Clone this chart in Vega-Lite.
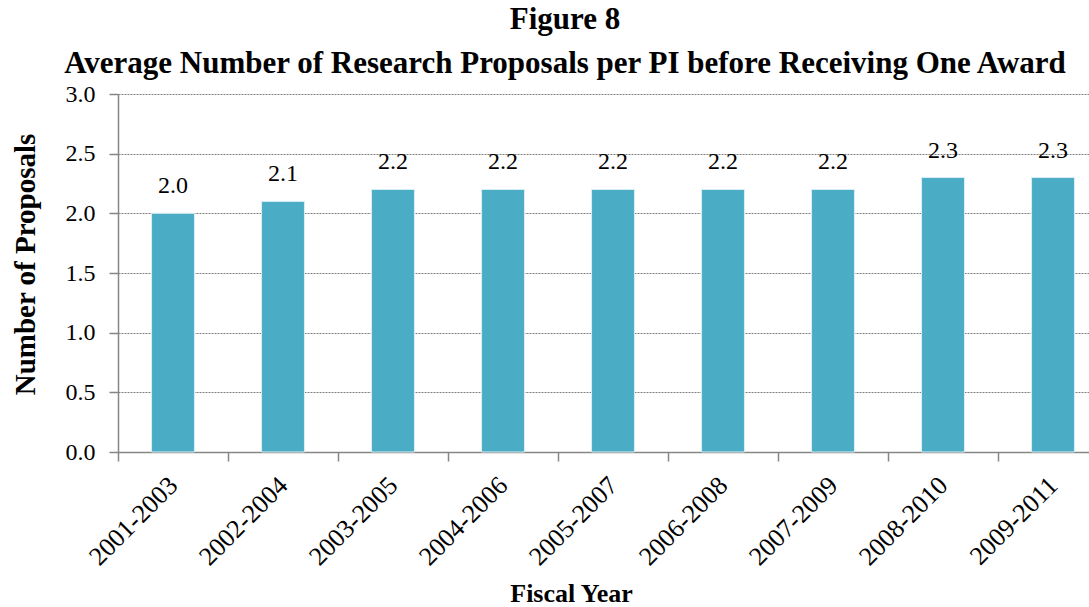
{
  "$schema": "https://vega.github.io/schema/vega-lite/v6.json",
  "autosize": {"type": "none"},
  "padding": {"left": 118, "top": 94, "right": 0, "bottom": 155},
  "width": {"step": 110},
  "height": 358,
  "background": "white",
  "title": {
    "text": ["Figure 8", "Average Number of Research Proposals per PI before Receiving One Award"],
    "font": "Liberation Serif",
    "fontSize": 31,
    "fontWeight": "bold",
    "color": "black",
    "lineHeight": 44,
    "anchor": "middle",
    "frame": "group",
    "dx": -48,
    "offset": 2
  },
  "config": {
    "view": {"stroke": null},
    "axis": {
      "labelFont": "Liberation Serif",
      "titleFont": "Liberation Serif",
      "labelFontSize": 24,
      "titleFontSize": 26,
      "labelColor": "black",
      "titleColor": "black",
      "domainColor": "#868686",
      "tickColor": "#868686",
      "domainWidth": 1.5,
      "tickWidth": 1.5,
      "tickSize": 9
    }
  },
  "data": {
    "values": [
      {"period": "2001-2003", "value": 2.0},
      {"period": "2002-2004", "value": 2.1},
      {"period": "2003-2005", "value": 2.2},
      {"period": "2004-2006", "value": 2.2},
      {"period": "2005-2007", "value": 2.2},
      {"period": "2006-2008", "value": 2.2},
      {"period": "2007-2009", "value": 2.2},
      {"period": "2008-2010", "value": 2.3},
      {"period": "2009-2011", "value": 2.3}
    ]
  },
  "encoding": {
    "x": {
      "field": "period",
      "type": "nominal",
      "sort": null,
      "scale": {"paddingInner": 0.61, "paddingOuter": 0.305},
      "axis": {
        "title": "Fiscal Year",
        "titleFontWeight": "bold",
        "titleX": 453,
        "titleY": 149,
        "titleAlign": "center",
        "titleBaseline": "alphabetic",
        "labelAngle": -45,
        "labelAlign": "right",
        "labelBaseline": "middle",
        "labelFontSize": 26,
        "labelPadding": 20,
        "tickOffset": -55,
        "labelOffset": 55,
        "grid": false
      }
    },
    "y": {
      "field": "value",
      "type": "quantitative",
      "scale": {"domain": [0, 3], "nice": false},
      "axis": {
        "title": "Number of Proposals",
        "titleFontWeight": "bold",
        "titleFontSize": 29,
        "titleX": -93,
        "titleY": 170,
        "titleAngle": -90,
        "titleAlign": "center",
        "titleBaseline": "middle",
        "values": [0, 0.5, 1, 1.5, 2, 2.5, 3],
        "format": ".1f",
        "labelPadding": 14,
        "grid": true,
        "gridColor": "#7f7f7f",
        "gridDash": [2, 1],
        "gridWidth": 1
      }
    }
  },
  "layer": [
    {"mark": {"type": "bar", "color": "#4BACC6", "stroke": "#d8eef4", "strokeWidth": 1}},
    {
      "mark": {"type": "text", "font": "Liberation Serif", "fontSize": 24, "baseline": "alphabetic", "dy": -20, "color": "black"},
      "encoding": {"text": {"field": "value", "type": "quantitative", "format": ".1f"}}
    }
  ]
}
